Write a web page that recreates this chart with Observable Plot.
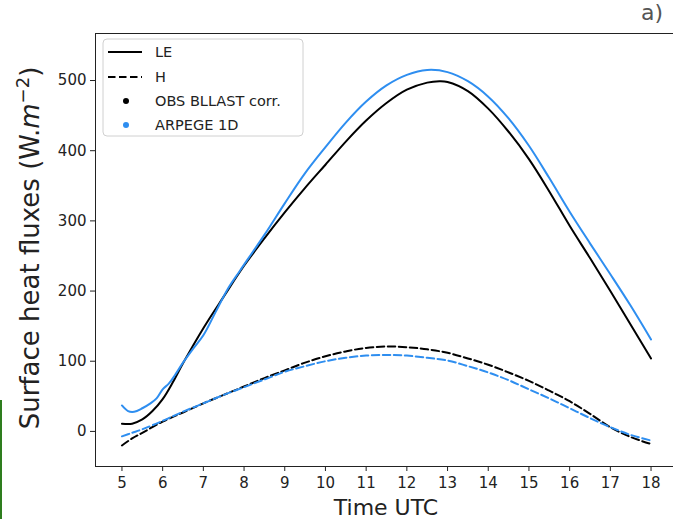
<!DOCTYPE html>
<html><head><meta charset="utf-8">
<script src="https://cdn.jsdelivr.net/npm/d3@7"></script>
<script src="https://cdn.jsdelivr.net/npm/@observablehq/plot@0.6"></script>
<style>
html,body{margin:0;padding:0;background:#fff;overflow:hidden;}
#wrap{position:relative;width:673px;height:519px;overflow:hidden;}
#wrap svg{max-width:none !important;}
#title{position:absolute;right:10px;top:0px;font:22px "DejaVu Sans";color:#555;}
#edge{position:absolute;left:0;top:400px;width:2px;height:119px;background:#2e7d1e;}
</style></head><body><div id="wrap"><div id="title">a)</div><div id="edge"></div></div>
<script>
// LE observed (BLLAST corr.) - solid black
const leObsT = [5.0,5.25,5.5,5.75,6.0,6.25,6.5,7.0,7.5,8.0,8.5,9.0,9.5,10.0,10.5,11.0,11.5,12.0,12.5,12.8,13.0,13.5,14.0,14.5,15.0,15.5,16.0,16.5,17.0,17.5,18.0];
const leObs  = [11,11,17,29,46,70,97,147,192,236,275,312,347,380,413,443,468,487,497,499,498,485,460,427,388,342,293,247,200,152,104];
// LE ARPEGE 1D - solid blue
const leArpT = [5.0,5.15,5.3,5.5,5.7,5.85,6.0,6.15,6.3,6.5,6.75,7.0,7.3,7.6,7.9,8.5,9.0,9.5,10.0,10.5,11.0,11.5,12.0,12.5,13.0,13.5,14.0,14.5,15.0,15.5,16.0,16.5,17.0,17.5,18.0];
const leArp  = [37,29,28,33,40,47,60,68,80,98,118,137,170,203,229,280,325,368,405,440,470,493,508,515,512,499,477,446,407,361,313,268,224,179,131];
// H observed - dashed black
const hObsT = [5.0,5.25,5.5,6.0,6.5,7.0,7.5,8.0,8.5,9.0,9.5,10.0,10.5,11.0,11.5,12.0,12.5,13.0,13.5,14.0,14.5,15.0,15.5,16.0,16.5,17.0,17.5,18.0];
const hObs  = [-20,-10,-2,14,27,40,52,64,76,87,98,107,114,119,121,120,117,112,104,95,84,72,58,43,25,6,-8,-18];
// H ARPEGE 1D - dashed blue
const hArpT = [5.0,5.25,5.5,6.0,6.5,7.0,7.5,8.0,8.5,9.0,9.5,10.0,10.5,11.0,11.5,12.0,12.5,13.0,13.5,14.0,14.5,15.0,15.5,16.0,16.5,17.0,17.5,18.0];
const hArp  = [-7,-2,3,15,28,40,52,63,74,85,93,100,105,108,109,108,105,101,93,84,73,60,47,33,19,6,-5,-13];

const xTicks = [5,6,7,8,9,10,11,12,13,14,15,16,17,18];
const yTicks = [0,100,200,300,400,500];
const legendLabels = ["LE","H","OBS BLLAST corr.","ARPEGE 1D"];

const obsColor = "#000000";
const arpColor = "#2e8ef0";

const rows = (T, V) => T.map((t, i) => ({t, v: V[i]}));

const plot = Plot.plot({
  width: 680, height: 519,
  marginLeft: 95, marginRight: 3, marginTop: 33, marginBottom: 53,
  style: {fontFamily: "DejaVu Sans", fontSize: "15px", color: "#222", background: "transparent", maxWidth: "none"},
  x: {domain: [4.35, 18.65]},
  y: {domain: [-50, 567]},
  marks: [
    Plot.frame({stroke: "#222", strokeWidth: 1}),
    Plot.line(rows(leObsT, leObs), {x: "t", y: "v", stroke: obsColor, strokeWidth: 2, curve: "catmull-rom"}),
    Plot.line(rows(leArpT, leArp), {x: "t", y: "v", stroke: arpColor, strokeWidth: 2, curve: "catmull-rom"}),
    Plot.line(rows(hObsT, hObs), {x: "t", y: "v", stroke: obsColor, strokeWidth: 2, strokeDasharray: "7.5,3.5", curve: "catmull-rom"}),
    Plot.line(rows(hArpT, hArp), {x: "t", y: "v", stroke: arpColor, strokeWidth: 2, strokeDasharray: "7.5,3.5", curve: "catmull-rom"}),
    Plot.axisX({ticks: xTicks, tickFormat: d => String(d), tickSize: 5, tickPadding: 6, label: null, fontSize: 15}),
    Plot.axisY({ticks: yTicks, tickFormat: d => String(d), tickSize: 5, tickPadding: 4, label: null, fontSize: 15})
  ]
});
plot.style.maxWidth = "none";

document.getElementById("wrap").prepend(plot);
const svg = d3.select(plot);

// x axis label
svg.append("text")
  .attr("x", 386).attr("y", 515)
  .attr("text-anchor", "middle")
  .attr("font-family", "DejaVu Sans").attr("font-size", 22).attr("fill", "#222")
  .text("Time UTC");

// y axis label with italic m and superscript
const yl = svg.append("text")
  .attr("transform", "translate(39,248) rotate(-90)")
  .attr("text-anchor", "middle")
  .attr("font-family", "DejaVu Sans").attr("font-size", 26).attr("fill", "#222");
yl.append("tspan").text("Surface heat fluxes (W.");
yl.append("tspan").attr("font-style", "italic").text("m");
yl.append("tspan").attr("font-size", 18).attr("dy", -10).text("\u22122");
yl.append("tspan").attr("dy", 10).text(")");

// legend
const lg = svg.append("g").attr("font-family", "DejaVu Sans").attr("font-size", 14.5).attr("fill", "#222").attr("text-anchor", "start");
lg.append("rect").attr("x", 103).attr("y", 39).attr("width", 200).attr("height", 97)
  .attr("rx", 4).attr("fill", "#fff").attr("fill-opacity", 0.85).attr("stroke", "#d0d0d0");
const rowY = [52, 77, 101, 125];
legendLabels.forEach((lab, i) => {
  const y = rowY[i];
  if (i < 2) {
    lg.append("line").attr("x1", 108).attr("x2", 142).attr("y1", y).attr("y2", y)
      .attr("stroke", "#000").attr("stroke-width", 2)
      .attr("stroke-dasharray", i === 1 ? "7.5,3.5" : null);
  } else {
    lg.append("circle").attr("cx", 126).attr("cy", y).attr("r", 3)
      .attr("fill", i === 2 ? obsColor : arpColor);
  }
  lg.append("text").attr("x", 155).attr("y", y).attr("dy", "0.36em").attr("text-anchor", "start").text(lab);
});
</script>
</body></html>
